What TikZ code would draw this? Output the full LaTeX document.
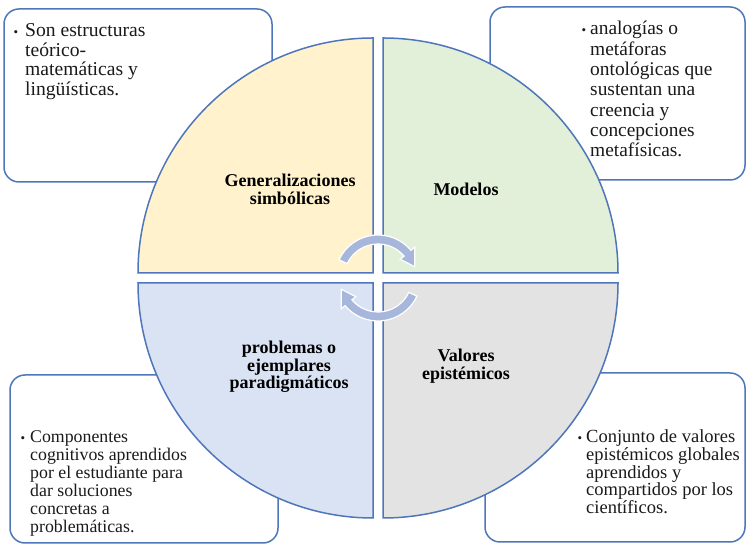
\documentclass[tikz,border=0pt]{standalone}
\usepackage{fontspec}
\setmainfont{Liberation Serif}
\usetikzlibrary{calc}
\definecolor{bordc}{HTML}{4F76BA}
\definecolor{fillTL}{HTML}{FFF2CC}
\definecolor{fillTR}{HTML}{E2F0D9}
\definecolor{fillBL}{HTML}{DAE3F3}
\definecolor{fillBR}{HTML}{E3E3E3}
\definecolor{arrc}{HTML}{A7B6DB}
\definecolor{txtc}{HTML}{1A1A1A}
\begin{document}
\begin{tikzpicture}[x=1pt,y=1pt,
  infobox/.style={draw=bordc, line width=1.5pt, rounded corners=15pt, fill=white},
  quad/.style={draw=bordc, line width=1.5pt},
  bodytext/.style={anchor=base west, inner sep=0pt, text=txtc},
  bul/.style={anchor=base, inner sep=0pt, text=txtc, font=\fontsize{13}{13}\selectfont},
  qlabel/.style={anchor=base, inner sep=0pt, text=black},
  circarrow/.style={fill=arrc, draw=white, line width=1.2pt}]
\useasboundingbox (0,0) rectangle (747,545);
\fill[white] (0,0) rectangle (747,545);
% info boxes
\draw[infobox] (4,363) rectangle (272,536);
\draw[infobox] (490,365) rectangle (745,538);
\draw[infobox] (10,2) rectangle (278,170);
\draw[infobox] (485,3) rectangle (745,172);
% quadrants
\draw[quad, fill=fillTL] (373,272) -- (138,272) arc (180:90:235) -- cycle;
\draw[quad, fill=fillTR] (383,272) -- (383,507) arc (90:0:235) -- cycle;
\draw[quad, fill=fillBL] (373,262) -- (138,262) arc (180:270:235) -- cycle;
\draw[quad, fill=fillBR] (383,262) -- (383,27) arc (270:360:235) -- cycle;
% circular arrows
\coordinate (C) at (378,267);
\filldraw[circarrow] ([shift={(C)}]155:43) arc (155:40:43) -- ([shift={(C)}]40:48)
  -- ([shift={(C)}]17:38.5) -- ([shift={(C)}]40:29) -- ([shift={(C)}]40:34)
  arc (40:155:34) -- cycle;
\filldraw[circarrow] ([shift={(C)}]-25:43) arc (-25:-140:43) -- ([shift={(C)}]-140:48)
  -- ([shift={(C)}]-163:38.5) -- ([shift={(C)}]-140:29) -- ([shift={(C)}]-140:34)
  arc (-140:-25:34) -- cycle;
% quadrant labels
\node[qlabel] (gen) at (290,358) {\parbox[t]{200pt}{\centering\bfseries\fontsize{18}{17.7}\selectfont Generalizaciones\\ simbólicas}};
\node[qlabel] (mod) at (466,349) {\parbox[t]{200pt}{\centering\bfseries\fontsize{18}{17.7}\selectfont Modelos}};
\node[qlabel] (prob) at (289,191) {\parbox[t]{200pt}{\centering\bfseries\fontsize{18}{17.5}\selectfont problemas o\\ ejemplares\\ paradigmáticos}};
\node[qlabel] (val) at (466,183) {\parbox[t]{200pt}{\centering\bfseries\fontsize{18}{18}\selectfont Valores\\ epistémicos}};
% box texts
\node[bul] (tlbul) at (16,508) {\textbullet};
\node[bodytext] (tlt) at (25,508) {\parbox[t]{240pt}{\raggedright\fontsize{19.6}{19.5}\selectfont Son estructuras\\ teórico-\\ matemáticas y\\ lingüísticas.}};
\node[bul] (trbul) at (584,510) {\textbullet};
\node[bodytext] (trt) at (590,510) {\parbox[t]{150pt}{\raggedright\fontsize{19.4}{20.3}\selectfont analogías o\\ metáforas\\ ontológicas que\\ sustentan una\\ creencia y\\ concepciones\\ metafísicas.}};
\node[bul] (blbul) at (23,102) {\textbullet};
\node[bodytext] (blt) at (30,102) {\parbox[t]{240pt}{\raggedright\fontsize{17.8}{18}\selectfont Componentes\\ cognitivos aprendidos\\ por el estudiante para\\ dar soluciones\\ concretas a\\ problemáticas.}};
\node[bul] (brbul) at (580,102) {\textbullet};
\node[bodytext] (brt) at (586,102) {\parbox[t]{160pt}{\raggedright\fontsize{18.5}{17.6}\selectfont Conjunto de valores\\ epistémicos globales\\ aprendidos y\\ compartidos por los\\ científicos.}};
\end{tikzpicture}
\end{document}
